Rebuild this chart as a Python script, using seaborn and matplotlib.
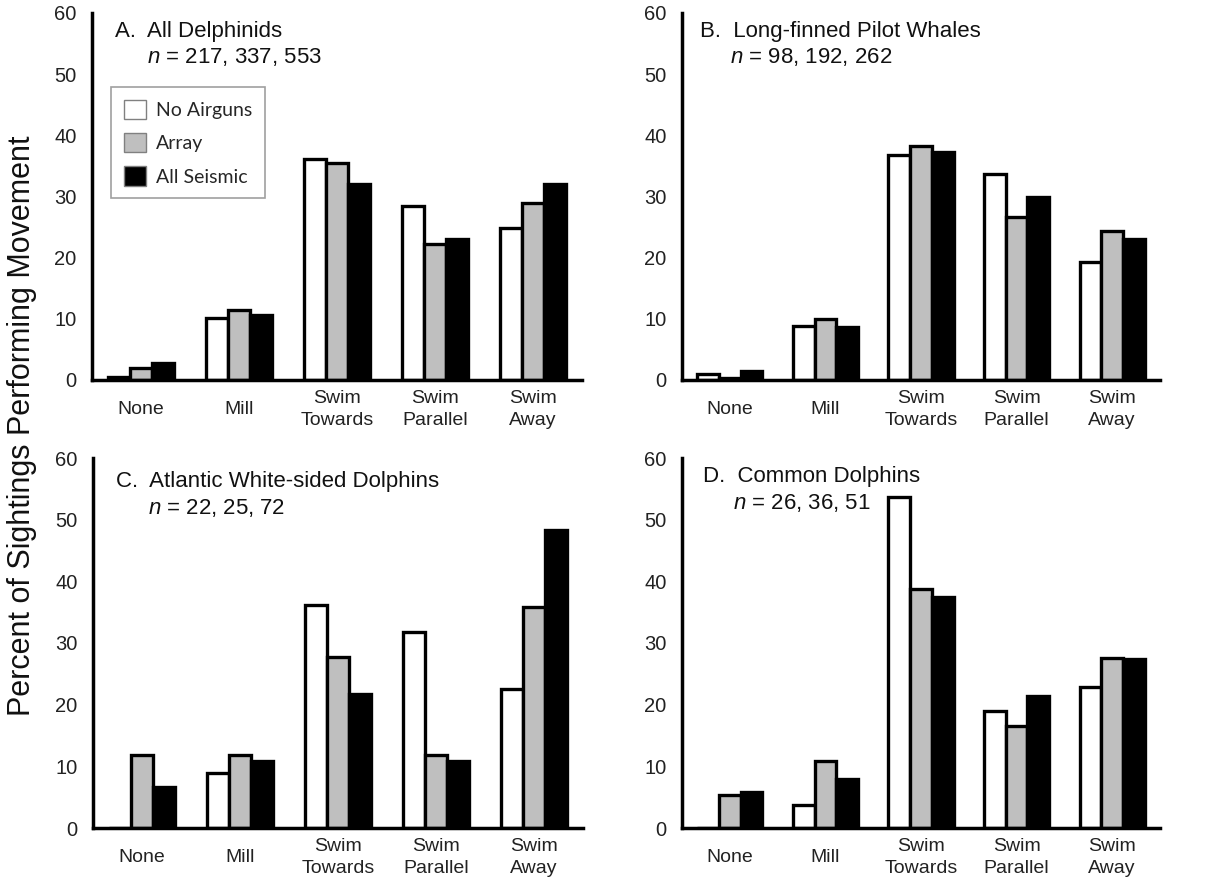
import pandas as pd
import matplotlib
matplotlib.use('Agg')
import matplotlib.pyplot as plt
import seaborn as sns
from matplotlib.patches import Patch

# Movement categories and sighting conditions
movements = ['None', 'Mill', 'Swim\nTowards', 'Swim\nParallel', 'Swim\nAway']
conditions = ['No Airguns', 'Array', 'All Seismic']

# Percent of sightings, one list per condition (None, Mill, Towards, Parallel, Away)
delph_none = [0.5, 10.1, 36.2, 28.5, 24.8]
delph_array = [2.0, 11.5, 35.4, 22.2, 29.0]
delph_seis = [2.7, 10.6, 32.1, 23.1, 32.1]

pilot_none = [0.9, 8.9, 36.8, 33.7, 19.3]
pilot_array = [0.4, 9.9, 38.3, 26.6, 24.4]
pilot_seis = [1.5, 8.6, 37.2, 29.9, 23.1]

white_none = [0.0, 9.0, 36.1, 31.8, 22.5]
white_array = [11.9, 11.9, 27.8, 11.9, 35.8]
white_seis = [6.6, 10.9, 21.8, 10.9, 48.4]

common_none = [0.0, 3.8, 53.7, 19.0, 22.9]
common_array = [5.4, 10.8, 38.7, 16.6, 27.6]
common_seis = [5.8, 7.9, 37.4, 21.4, 27.4]

titles = ['A.  All Delphinids', 'B.  Long-finned Pilot Whales',
          'C.  Atlantic White-sided Dolphins', 'D.  Common Dolphins']
sample_sizes = ['217, 337, 553', '98, 192, 262', '22, 25, 72', '26, 36, 51']

panels = [
    (delph_none, delph_array, delph_seis),
    (pilot_none, pilot_array, pilot_seis),
    (white_none, white_array, white_seis),
    (common_none, common_array, common_seis),
]

sns.set_style('white')
plt.rcParams['font.family'] = ['Liberation Sans', 'DejaVu Sans']
plt.rcParams['mathtext.fontset'] = 'custom'
plt.rcParams['mathtext.it'] = 'Liberation Sans:italic'
plt.rcParams['mathtext.rm'] = 'Liberation Sans'

colors = ['#ffffff', '#bfbfbf', '#000000']

fig = plt.figure(figsize=(12.21, 8.86), dpi=100)
W, H = 1221, 886
# axes boxes in pixels: left, right, top, bottom
boxes = [(92, 582, 13, 380), (682, 1160, 13, 380),
         (93, 583, 458, 828), (682, 1160, 458, 828)]
title_pos = [((0.047, 0.949), (0.112, 0.881)),
             ((0.038, 0.949), (0.100, 0.881)),
             ((0.047, 0.936), (0.112, 0.864)),
             ((0.044, 0.949), (0.107, 0.878))]

for i, (vals, box, ttl, n, tp) in enumerate(zip(panels, boxes, titles, sample_sizes, title_pos)):
    l, r, t, b = box
    ax = fig.add_axes([l / W, (H - b) / H, (r - l) / W, (b - t) / H])
    df = pd.DataFrame({
        'Movement': movements * 3,
        'Condition': [c for c in conditions for _ in movements],
        'Percent': list(vals[0]) + list(vals[1]) + list(vals[2]),
    })
    sns.barplot(data=df, x='Movement', y='Percent', hue='Condition',
                hue_order=conditions, palette=colors, edgecolor='black',
                linewidth=2.4, width=0.68, gap=0, errorbar=None,
                legend=False, ax=ax)
    ax.set_xlim(-0.5, 4.5)
    ax.set_ylim(0, 60)
    ax.set_yticks(range(0, 61, 10))
    ax.set_xlabel('')
    ax.set_ylabel('')
    sns.despine(ax=ax)
    for s in ['left', 'bottom']:
        ax.spines[s].set_linewidth(2.5)
        ax.spines[s].set_color('black')
    ax.set_xticks([x - 0.5 for x in range(6)], minor=True)
    ax.tick_params(axis='x', which='minor', direction='out', length=5, width=2.5, color='black')
    ax.tick_params(axis='x', which='major', length=0, pad=21, labelsize=14, labelcolor='#222222')
    ax.tick_params(axis='y', direction='out', length=5, width=2, color='black',
                   labelsize=14.5, pad=6, labelcolor='#222222')
    for lab in ax.get_xticklabels():
        lab.set_va('center')
        lab.set_linespacing(1.4)
    ax.text(tp[0][0], tp[0][1], ttl, transform=ax.transAxes, fontsize=16, va='center', color='#111111')
    ax.text(tp[1][0], tp[1][1], '$n$ = ' + n, transform=ax.transAxes, fontsize=16, va='center', color='#111111')

    if i == 0:
        handles = [Patch(facecolor=c, edgecolor='#808080', linewidth=1) for c in colors]
        leg = ax.legend(handles, conditions, loc='upper left', bbox_to_anchor=(0.039, 0.798),
                        frameon=True, fancybox=False, framealpha=1, edgecolor='#a0a0a0',
                        prop={'family': 'Lato', 'size': 14}, handlelength=1.15, handleheight=1.15,
                        labelspacing=0.72, handletextpad=0.5, borderpad=0.65, borderaxespad=0)
        leg.get_frame().set_linewidth(1.2)

fig.text(0.018, 0.52, 'Percent of Sightings Performing Movement', rotation=90,
         va='center', ha='center', fontsize=22, color='#111111')

fig.savefig('out.png', dpi=100)
